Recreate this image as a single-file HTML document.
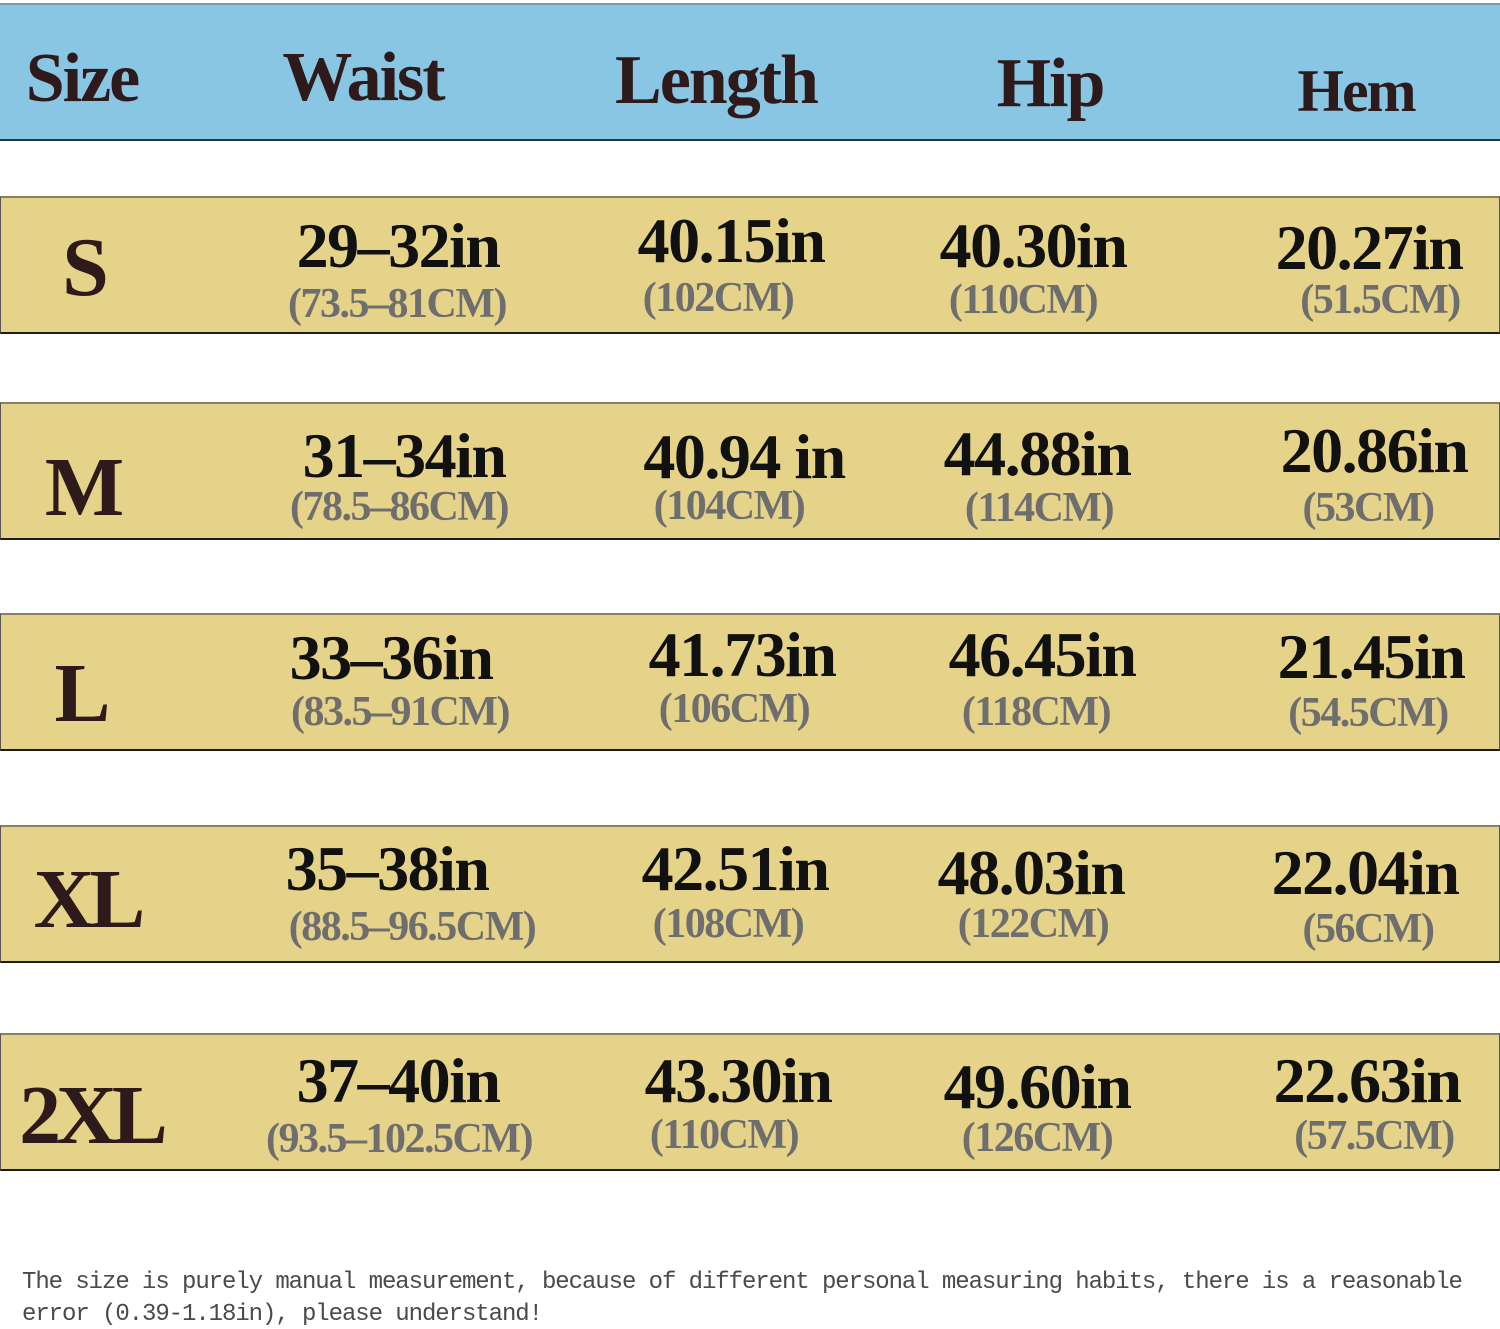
<!DOCTYPE html>
<html><head><meta charset="utf-8"><style>
html,body{margin:0;padding:0;background:#fff;}
#c{position:relative;width:1500px;height:1329px;overflow:hidden;background:#fff;}
.band{position:absolute;left:0;width:1500px;box-sizing:border-box;}
.hd{top:3px;height:138px;background:#88c6e3;border-top:2px solid #7a9aa8;border-bottom:2px solid #1f3a44;}
.row{height:138px;background:#e6d38a;border-top:2px solid #8a8060;border-bottom:2px solid #1c1c1c;border-left:1px solid #555;border-right:1px solid #555;}
.t{position:absolute;transform:translateX(-50%);white-space:nowrap;font-family:"Liberation Serif",serif;font-weight:bold;line-height:1;margin-top:4px;}
.h{font-size:70px;color:#2e1a1a;letter-spacing:-2px;}
.m{font-size:64px;color:#111;letter-spacing:-1.5px;}
.s{font-size:42px;color:#6e6e6e;letter-spacing:-1.5px;}
.z{font-size:84px;color:#2e1a1a;letter-spacing:-5px;}
.f{position:absolute;left:22px;font-family:"Liberation Mono",monospace;font-size:24px;color:#4a4a4a;letter-spacing:-1.07px;white-space:nowrap;line-height:1;margin-top:4px;}
</style></head><body><div id="c">
<div class="band hd"></div>
<div class="band row" style="top:196px"></div>
<div class="band row" style="top:402px"></div>
<div class="band row" style="top:613px"></div>
<div class="band row" style="top:825px"></div>
<div class="band row" style="top:1033px"></div>

<div class="t h" style="left:82px;top:40px">Size</div>
<div class="t h" style="left:363px;top:39px">Waist</div>
<div class="t h" style="left:716px;top:42px">Length</div>
<div class="t h" style="left:1050px;top:45px">Hip</div>
<div class="t h" style="left:1356px;top:57px;font-size:60px">Hem</div>

<div class="t z" style="left:83px;top:222px">S</div>
<div class="t m" style="left:398px;top:210px">29–32in</div>
<div class="t s" style="left:397px;top:279px">(73.5–81CM)</div>
<div class="t m" style="left:731px;top:205px">40.15in</div>
<div class="t s" style="left:718px;top:273px">(102CM)</div>
<div class="t m" style="left:1033px;top:210px">40.30in</div>
<div class="t s" style="left:1023px;top:275px">(110CM)</div>
<div class="t m" style="left:1369px;top:212px">20.27in</div>
<div class="t s" style="left:1380px;top:275px">(51.5CM)</div>

<div class="t z" style="left:82px;top:442px">M</div>
<div class="t m" style="left:404px;top:420px">31–34in</div>
<div class="t s" style="left:399px;top:482px">(78.5–86CM)</div>
<div class="t m" style="left:744px;top:421px">40.94 in</div>
<div class="t s" style="left:729px;top:481px">(104CM)</div>
<div class="t m" style="left:1037px;top:418px">44.88in</div>
<div class="t s" style="left:1039px;top:483px">(114CM)</div>
<div class="t m" style="left:1374px;top:415px">20.86in</div>
<div class="t s" style="left:1368px;top:483px">(53CM)</div>

<div class="t z" style="left:80px;top:648px">L</div>
<div class="t m" style="left:391px;top:622px">33–36in</div>
<div class="t s" style="left:400px;top:687px">(83.5–91CM)</div>
<div class="t m" style="left:742px;top:619px">41.73in</div>
<div class="t s" style="left:734px;top:684px">(106CM)</div>
<div class="t m" style="left:1042px;top:619px">46.45in</div>
<div class="t s" style="left:1036px;top:687px">(118CM)</div>
<div class="t m" style="left:1371px;top:621px">21.45in</div>
<div class="t s" style="left:1368px;top:688px">(54.5CM)</div>

<div class="t z" style="left:87px;top:854px">XL</div>
<div class="t m" style="left:387px;top:833px">35–38in</div>
<div class="t s" style="left:412px;top:902px">(88.5–96.5CM)</div>
<div class="t m" style="left:735px;top:833px">42.51in</div>
<div class="t s" style="left:728px;top:899px">(108CM)</div>
<div class="t m" style="left:1031px;top:837px">48.03in</div>
<div class="t s" style="left:1033px;top:899px">(122CM)</div>
<div class="t m" style="left:1365px;top:837px">22.04in</div>
<div class="t s" style="left:1368px;top:904px">(56CM)</div>

<div class="t z" style="left:91px;top:1070px">2XL</div>
<div class="t m" style="left:398px;top:1045px">37–40in</div>
<div class="t s" style="left:399px;top:1114px">(93.5–102.5CM)</div>
<div class="t m" style="left:738px;top:1045px">43.30in</div>
<div class="t s" style="left:724px;top:1110px">(110CM)</div>
<div class="t m" style="left:1037px;top:1051px">49.60in</div>
<div class="t s" style="left:1037px;top:1113px">(126CM)</div>
<div class="t m" style="left:1367px;top:1045px">22.63in</div>
<div class="t s" style="left:1374px;top:1111px">(57.5CM)</div>

<div class="f" style="top:1267px">The size is purely manual measurement, because of different personal measuring habits, there is a reasonable</div>
<div class="f" style="top:1299px">error (0.39-1.18in), please understand!</div>
</div></body></html>
